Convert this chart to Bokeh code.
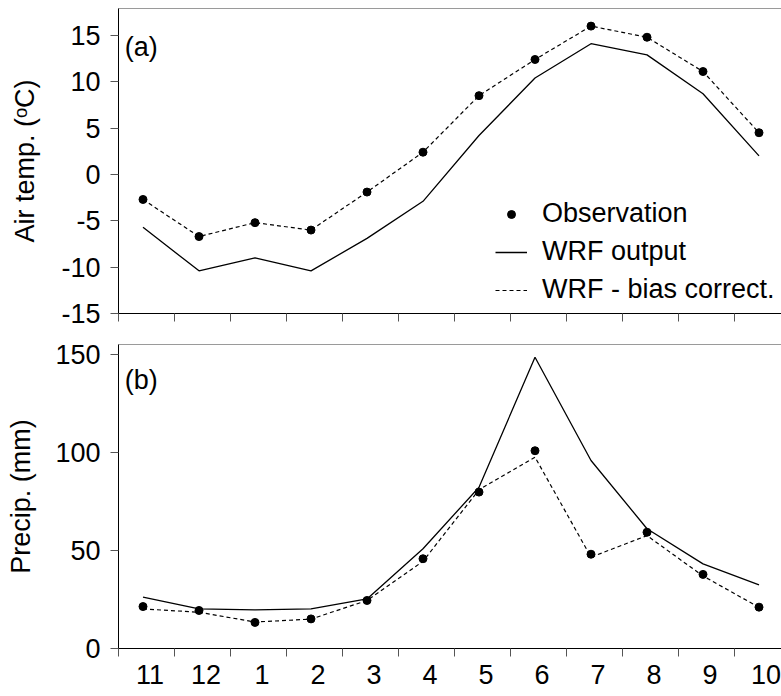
import numpy as np
from bokeh.plotting import figure
from bokeh.models import (ColumnDataSource, FixedTicker, LinearAxis, Range1d,
                          Legend, LegendItem, Label, CustomJSTickFormatter)
from bokeh.layouts import column
from bokeh.embed import file_html
from bokeh.resources import INLINE

# ---------------- data ----------------
months = ["11", "12", "1", "2", "3", "4", "5", "6", "7", "8", "9", "10"]

temp_obs = [-2.7, -6.7, -5.2, -6.0, -1.9, 2.4, 8.5, 12.4, 16.0, 14.8, 11.1, 4.5]
temp_wrf = [-5.7, -10.4, -9.0, -10.4, -6.9, -2.9, 4.2, 10.4, 14.1, 12.9, 8.7, 2.0]
temp_bc = [-2.7, -6.7, -5.2, -6.0, -1.9, 2.4, 8.5, 12.4, 16.0, 14.8, 11.1, 4.5]

prcp_obs = [21.4, 19.4, 13.3, 15.1, 24.5, 45.8, 79.8, 100.9, 48.1, 59.3, 37.8, 21.1]
prcp_wrf = [26.2, 20.2, 19.7, 20.2, 25.3, 50.9, 82.3, 148.6, 95.9, 61.1, 43.2, 32.5]
prcp_bc = [20.2, 18.5, 13.5, 15.0, 24.5, 44.5, 81.0, 97.6, 46.6, 57.6, 37.0, 21.0]

temp_ticks = [-15, -10, -5, 0, 5, 10, 15]
prcp_ticks = [0, 50, 100, 150]

# ---------------- layout constants ----------------
FONT = "Liberation Sans"
FS = "27px"
n = len(months)
xpos = np.arange(n) + 0.4375          # point position inside each month slot
label_pos = list(np.arange(n) + 0.5625)
bounds = list(range(n))
TICK_COL = "#555555"


def base_fig(yr, frame_h, mb_top, mb_bottom):
    p = figure(frame_width=663, frame_height=frame_h,
               x_range=Range1d(0, 11.839), y_range=Range1d(*yr),
               x_axis_type=None, y_axis_type=None,
               output_backend="svg", toolbar_location=None,
               min_border_left=118, min_border_right=0,
               min_border_top=mb_top, min_border_bottom=mb_bottom)
    p.outline_line_color = None
    p.background_fill_color = "white"
    p.border_fill_color = "white"
    # thin gray top line
    top_ax = LinearAxis(ticker=FixedTicker(ticks=[], minor_ticks=[]),
                        axis_line_color="#9a9a9a", axis_line_width=1,
                        major_tick_line_color=None, minor_tick_line_color=None,
                        major_label_standoff=0)
    p.add_layout(top_ax, "above")
    return p


def add_yaxis(p, ticks, label, label_standoff):
    fmt = CustomJSTickFormatter(code="return tick.toString();")
    ax = LinearAxis(ticker=FixedTicker(ticks=ticks, minor_ticks=[]),
                    formatter=fmt,
                    axis_line_color="black", axis_line_width=1,
                    major_tick_out=8, major_tick_in=0, major_tick_line_color=TICK_COL,
                    minor_tick_line_color=None,
                    major_label_standoff=10,
                    major_label_text_font=FONT, major_label_text_font_size=FS,
                    major_label_text_color="black",
                    axis_label=label, axis_label_text_font=FONT,
                    axis_label_text_font_size=FS, axis_label_text_font_style="normal",
                    axis_label_text_color="black", axis_label_standoff=label_standoff)
    p.add_layout(ax, "left")


def add_xaxis(p, show_labels, standoff=8):
    if show_labels:
        fmt = CustomJSTickFormatter(args=dict(labels=months),
                                    code="return labels[Math.floor(tick)];")
        ticker = FixedTicker(ticks=label_pos, minor_ticks=bounds)
    else:
        fmt = CustomJSTickFormatter(code="return '';")
        ticker = FixedTicker(ticks=[], minor_ticks=bounds)
    ax = LinearAxis(ticker=ticker, formatter=fmt,
                    axis_line_color="black", axis_line_width=1,
                    major_tick_line_color=None,
                    minor_tick_out=8, minor_tick_in=0, minor_tick_line_color=TICK_COL,
                    major_label_standoff=standoff if show_labels else 0,
                    major_label_text_font=FONT, major_label_text_font_size=FS,
                    major_label_text_color="black")
    p.add_layout(ax, "below")


def draw(p, obs, wrf, bc):
    src = ColumnDataSource(dict(x=xpos, obs=obs, wrf=wrf, bc=bc))
    r_wrf = p.line("x", "wrf", source=src, line_color="black", line_width=1.3)
    r_bc = p.line("x", "bc", source=src, line_color="black", line_width=1.2,
                  line_dash="4 3")
    r_obs = p.scatter("x", "obs", source=src, marker="circle", size=8,
                      fill_color="black", line_color="black")
    return r_obs, r_wrf, r_bc


# ---------------- top panel: air temperature ----------------
p1 = base_fig((-15, 17.9), 305, 8, 18)
add_yaxis(p1, temp_ticks, "Air temp. (ᵒC)", 18)
add_xaxis(p1, False)
o1, w1, b1 = draw(p1, temp_obs, temp_wrf, temp_bc)
p1.add_layout(Label(x=0.11, y=13.76, text="(a)", text_font=FONT,
                    text_font_size=FS, text_baseline="alphabetic", text_color="black"))

legend = Legend(items=[LegendItem(label="Observation", renderers=[o1]),
                       LegendItem(label="WRF output", renderers=[w1]),
                       LegendItem(label="WRF - bias correct.", renderers=[b1])],
                location=(377, 8), orientation="vertical",
                glyph_width=32, glyph_height=20, label_height=30,
                label_standoff=15, spacing=7, padding=0, margin=0,
                border_line_color=None, background_fill_alpha=0,
                label_text_font=FONT, label_text_font_size=FS,
                label_text_color="black")
p1.add_layout(legend, "center")

# ---------------- bottom panel: precipitation ----------------
p2 = base_fig((0, 155.1), 304, 13, 48)
add_yaxis(p2, prcp_ticks, "Precip. (mm)", 16)
add_xaxis(p2, True, standoff=8)
draw(p2, prcp_obs, prcp_wrf, prcp_bc)
p2.add_layout(Label(x=0.11, y=137.1, text="(b)", text_font=FONT,
                    text_font_size=FS, text_baseline="alphabetic", text_color="black"))

layout = column(p1, p2, spacing=0)
open("out.html", "w").write(file_html(layout, INLINE))
